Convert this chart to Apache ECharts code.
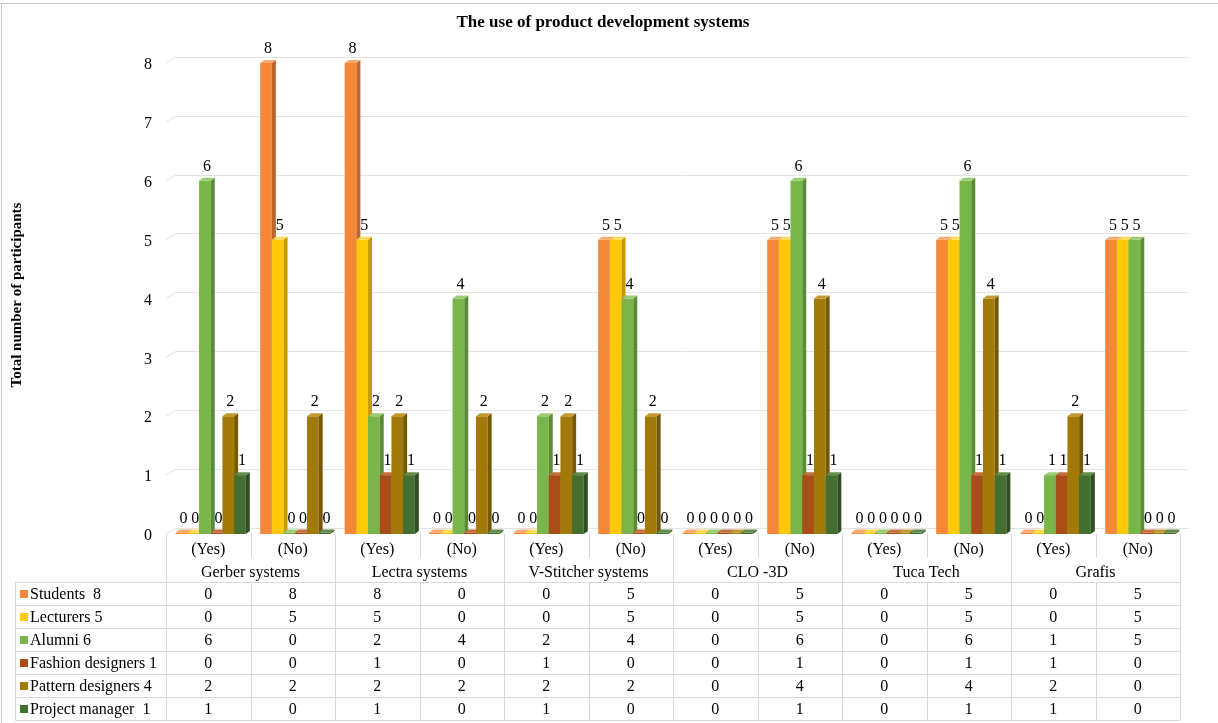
<!DOCTYPE html>
<html><head><meta charset="utf-8">
<script src="https://cdn.jsdelivr.net/npm/echarts@6/dist/echarts.min.js"></script>
<style>html,body{margin:0;padding:0;background:#fff}#c{width:1218px;height:723px}</style>
</head><body><div id="c"></div>
<script>
const categories = ['(Yes)','(No)','(Yes)','(No)','(Yes)','(No)','(Yes)','(No)','(Yes)','(No)','(Yes)','(No)'];
const systems = ['Gerber systems','Lectra systems','V-Stitcher systems','CLO -3D','Tuca Tech','Grafis'];
const seriesNames = ['Students  8','Lecturers 5','Alumni 6','Fashion designers 1','Pattern designers 4','Project manager  1'];
const students  = [0,8,8,0,0,5,0,5,0,5,0,5];
const lecturers = [0,5,5,0,0,5,0,5,0,5,0,5];
const alumni    = [6,0,2,4,2,4,0,6,0,6,1,5];
const fashion   = [0,0,1,0,1,0,0,1,0,1,1,0];
const pattern   = [2,2,2,2,2,2,0,4,0,4,2,0];
const project   = [1,0,1,0,1,0,0,1,0,1,1,0];
const yTicks = [0,1,2,3,4,5,6,7,8];

const allSeries = [students, lecturers, alumni, fashion, pattern, project];
const colors = ['#F4883A','#FFC90A','#79B54A','#A94E19','#A27A0A','#456F31'];
const sideColors = ['#C2652A','#C99A00','#5A8C35','#7A3710','#765805','#2F4F21'];
const topColors = ['#F9A86E','#FFDA55','#9CCB75','#C36E3C','#C09A30','#628C4C'];
const FONT = '"Liberation Serif","Times New Roman",serif';

const chart = echarts.init(document.getElementById('c'), null, {renderer:'canvas'});

function makeRender(si){
  return function(params, api){
    const ci = api.value(0), v = api.value(1);
    const base = api.coord([ci, 0]);
    const top = api.coord([ci, v]);
    const cw = api.size([1,0])[0];
    const gw = cw*0.83, bw = gw/6;
    const x = base[0] - gw/2 + si*bw + 2.5;
    const dx = 4, dy = 3;
    const yt = v > 0 ? top[1] : base[1]-1.5;
    const yb = base[1];
    const children = [
      {type:'rect', shape:{x:x, y:yt, width:bw, height:yb-yt}, style:{fill:colors[si]}},
      {type:'polygon', shape:{points:[[x+bw,yt],[x+bw+dx,yt-dy],[x+bw+dx,yb-dy],[x+bw,yb]]}, style:{fill:sideColors[si]}},
      {type:'polygon', shape:{points:[[x,yt],[x+dx,yt-dy],[x+bw+dx,yt-dy],[x+bw,yt]]}, style:{fill:topColors[si]}},
      {type:'text', style:{text:String(v), x:x+bw/2+2, y:yt-dy-3, align:'center', verticalAlign:'bottom', font:'16px '+FONT, fill:'#000'}}
    ];
    return {type:'group', children:children};
  };
}

const series = allSeries.map((arr, si) => ({
  type:'custom', name: seriesNames[si], xAxisIndex:0, yAxisIndex:0,
  renderItem: makeRender(si),
  data: arr.map((v,i)=>[i,v]),
  encode:{x:0,y:1}, z: 5+si
}));

chart.setOption({
  animation:false,
  backgroundColor:'#fff',
  title:{text:'The use of product development systems', left:598, top:9, textAlign:'center',
    textStyle:{fontFamily:FONT, fontSize:17, fontWeight:'bold', color:'#000'}},
  grid:[
    {left:166, right:38, top:63, bottom:189},
    {left:176, right:29, top:57, bottom:195}
  ],
  xAxis:[
    {type:'category', gridIndex:0, data:categories, axisLine:{show:false}, axisTick:{show:false}, axisLabel:{show:false}},
    {type:'category', gridIndex:1, data:categories, show:false}
  ],
  yAxis:[
    {type:'value', gridIndex:0, min:0, max:8, interval:1, splitLine:{show:false},
      axisLine:{show:false}, axisTick:{show:false},
      axisLabel:{margin:14, fontFamily:FONT, fontSize:16, color:'#000', verticalAlign:'top', padding:[-6,0,0,0],
        formatter: v => yTicks.includes(v) ? String(v) : ''}},
    {type:'value', gridIndex:1, min:0, max:8, interval:1, axisLabel:{show:false}, axisLine:{show:false}, axisTick:{show:false},
      splitLine:{show:true, lineStyle:{color:'#E3E3E3', width:1}}}
  ],
  series: series
});

const g = [];
const lineC = '#D9D9D9';
function L(x1,y1,x2,y2,c){ g.push({type:'line', shape:{x1,y1,x2,y2}, style:{stroke:c||lineC, lineWidth:1}, silent:true}); }
function T(text,x,y,align,opt){ g.push({type:'text', style:Object.assign({text, x, y, align:align||'center', verticalAlign:'middle', font:'16px '+FONT, fill:'#000'}, opt||{}), silent:true}); }

const n = categories.length;
const c0 = chart.convertToPixel({xAxisIndex:0}, 0);
const c1 = chart.convertToPixel({xAxisIndex:0}, 1);
const cw = c1 - c0;
const leftX = c0 - cw/2;
const rightX = leftX + n*cw;
const floorY = chart.convertToPixel({yAxisIndex:0}, 0);
yTicks.forEach(t => {
  const yf = chart.convertToPixel({yAxisIndex:0}, t);
  const yb = chart.convertToPixel({yAxisIndex:1}, t);
  L(leftX, yf, leftX+10, yb, '#E3E3E3');
});

const headY1 = floorY + 16, headY2 = floorY + 39;
const rowTop = floorY + 48, rowH = 23;
const tableLeft = 15;
categories.forEach((c,i)=>T(c, leftX + (i+0.5)*cw, headY1));
systems.forEach((s,k)=>T(s, leftX + (2*k+1)*cw, headY2));
for(let k=0;k<=n;k++){
  const x = Math.round(leftX + k*cw)+0.5;
  if(k%2===0) L(x, floorY, x, rowTop);
  else L(x, floorY, x, floorY+24);
  L(x, rowTop, x, rowTop + rowH*6);
}
L(tableLeft+0.5, rowTop, tableLeft+0.5, rowTop+rowH*6);
for(let r=0;r<=6;r++){
  const y = Math.round(rowTop + r*rowH)+0.5;
  L(tableLeft, y, rightX, y);
}
allSeries.forEach((arr, si) => {
  const yc = rowTop + si*rowH + rowH/2 + 1;
  g.push({type:'rect', shape:{x:20, y:yc-4.5, width:8, height:8}, style:{fill:colors[si]}, silent:true});
  T(seriesNames[si], 30, yc, 'left');
  arr.forEach((v,i)=>T(String(v), leftX + (i+0.5)*cw, yc));
});
g.push({type:'text', x:17, y:295, rotation:Math.PI/2, style:{text:'Total number of participants', x:0, y:0, align:'center', verticalAlign:'middle', font:'bold 15px '+FONT, fill:'#000'}, silent:true});
L(0, 3.5, 1218, 3.5, '#C8C8C8');
L(1.5, 3, 1.5, 723, '#C8C8C8');

chart.setOption({graphic: g});
</script>
</body></html>
